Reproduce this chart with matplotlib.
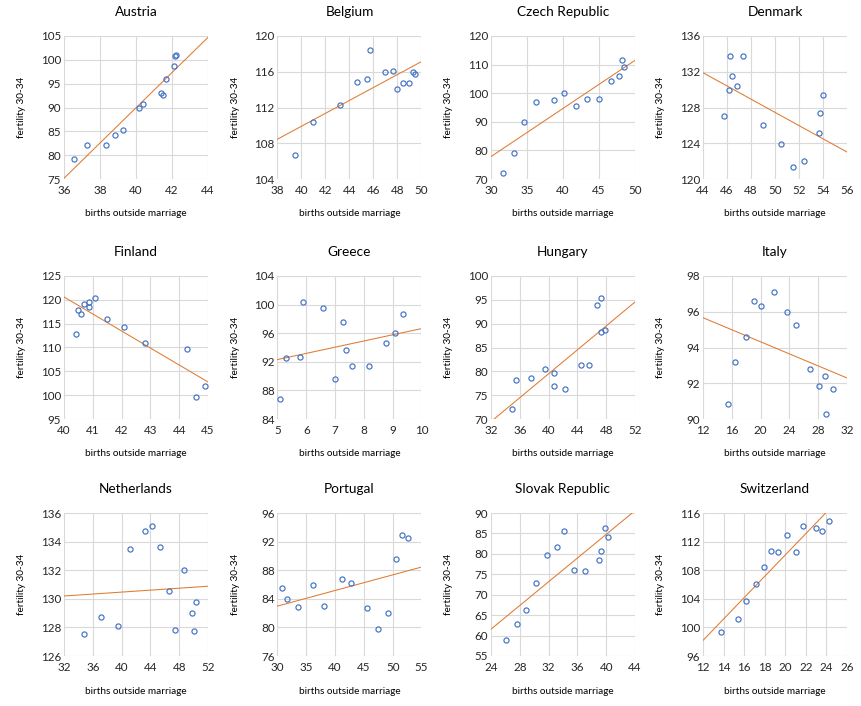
import numpy as np
import matplotlib
matplotlib.use("Agg")
import matplotlib.pyplot as plt
from matplotlib.ticker import MultipleLocator, FormatStrFormatter

plt.rcParams["font.family"] = ["Lato", "DejaVu Sans"]

countries = ["Austria", "Belgium", "Czech Republic", "Denmark",
             "Finland", "Greece", "Hungary", "Italy",
             "Netherlands", "Portugal", "Slovak Republic", "Switzerland"]

austria_births = [36.55, 37.25, 38.35, 38.85, 39.3, 40.14, 40.41, 41.39, 41.5, 41.66, 42.1, 42.16, 42.2]
austria_fert = [79.3, 82.1, 82.1, 84.3, 85.2, 89.8, 90.8, 93.1, 92.7, 96.0, 98.75, 100.9, 101.0]

belgium_births = [39.46, 40.98, 43.19, 44.59, 45.5, 45.67, 47.0, 47.66, 47.99, 48.48, 48.98, 49.28, 49.45]
belgium_fert = [106.74, 110.4, 112.3, 114.85, 115.2, 118.4, 116.0, 116.07, 114.07, 114.78, 114.78, 116.0, 115.74]

czech_births = [31.72, 33.26, 34.52, 36.3, 38.72, 40.2, 41.8, 43.33, 45.0, 46.7, 47.8, 48.2, 48.5]
czech_fert = [72.1, 79.1, 89.9, 96.9, 97.7, 100.0, 95.5, 97.9, 97.9, 104.3, 105.9, 111.5, 109.0]

denmark_births = [45.74, 46.15, 46.23, 46.4, 46.81, 47.31, 48.97, 50.54, 51.46, 52.44, 53.68, 53.77, 53.96]
denmark_fert = [127.07, 129.96, 133.74, 131.52, 130.44, 133.74, 126.07, 123.96, 121.3, 121.96, 125.19, 127.4, 129.4]

finland_births = [40.4, 40.5, 40.6, 40.71, 40.87, 40.88, 41.09, 41.48, 42.1, 42.8, 44.27, 44.58, 44.9]
finland_fert = [112.9, 117.97, 117.13, 119.03, 119.45, 118.4, 120.3, 116.08, 114.4, 111.0, 109.75, 99.6, 101.95]

greece_births = [5.09, 5.29, 5.79, 5.89, 6.59, 7.0, 7.28, 7.38, 7.59, 8.18, 8.77, 9.09, 9.36]
greece_fert = [86.8, 92.47, 92.65, 100.33, 99.49, 89.58, 97.53, 93.63, 91.4, 91.4, 94.6, 96.05, 98.65]

hungary_births = [34.98, 35.54, 37.5, 39.46, 40.72, 40.72, 42.26, 44.49, 45.61, 46.73, 47.29, 47.29, 47.85]
hungary_fert = [72.1, 78.2, 78.64, 80.53, 76.95, 79.69, 76.3, 81.38, 81.38, 94.0, 95.3, 88.33, 88.76]

italy_births = [15.49, 16.47, 18.0, 19.12, 20.09, 21.9, 23.72, 24.98, 26.93, 28.05, 28.88, 29.02, 30.0]
italy_fert = [90.84, 93.2, 94.61, 96.58, 96.3, 97.08, 96.01, 95.28, 92.81, 91.85, 92.42, 90.28, 91.69]

netherlands_births = [34.84, 37.07, 39.44, 41.12, 43.21, 44.19, 45.3, 46.56, 47.4, 48.65, 49.77, 50.05, 50.33]
netherlands_fert = [127.52, 128.73, 128.08, 133.48, 134.74, 135.09, 133.62, 130.53, 127.8, 132.0, 128.99, 127.73, 129.76]

portugal_births = [30.81, 31.68, 33.59, 36.19, 38.1, 41.23, 42.79, 45.57, 47.48, 49.21, 50.6, 51.64, 52.69]
portugal_fert = [85.53, 84.0, 82.88, 85.95, 83.02, 86.79, 86.23, 82.74, 79.81, 82.05, 89.58, 92.93, 92.51]

slovak_births = [26.14, 27.67, 28.93, 30.19, 31.72, 33.12, 34.09, 35.49, 37.02, 38.98, 39.26, 39.81, 40.23]
slovak_fert = [59.0, 62.9, 66.32, 72.91, 79.75, 81.7, 85.6, 76.09, 75.84, 78.53, 80.72, 86.34, 84.14]

switzerland_births = [13.76, 15.42, 16.2, 17.18, 17.96, 18.64, 19.33, 20.21, 21.08, 21.77, 22.94, 23.53, 24.21]
switzerland_fert = [99.4, 101.21, 103.72, 106.09, 108.47, 110.7, 110.56, 112.93, 110.56, 114.19, 113.91, 113.49, 114.88]

births = [austria_births, belgium_births, czech_births, denmark_births,
          finland_births, greece_births, hungary_births, italy_births,
          netherlands_births, portugal_births, slovak_births, switzerland_births]
fertility = [austria_fert, belgium_fert, czech_fert, denmark_fert,
             finland_fert, greece_fert, hungary_fert, italy_fert,
             netherlands_fert, portugal_fert, slovak_fert, switzerland_fert]

# axis ranges (min, max, step)
x_ranges = [(36, 44, 2), (38, 50, 2), (30, 50, 5), (44, 56, 2),
            (40, 45, 1), (5, 10, 1), (32, 52, 4), (12, 32, 4),
            (32, 52, 4), (30, 55, 5), (24, 44, 4), (12, 26, 2)]
y_ranges = [(75, 105, 5), (104, 120, 4), (70, 120, 10), (120, 136, 4),
            (95, 125, 5), (84, 104, 4), (70, 100, 5), (90, 98, 2),
            (126, 136, 2), (76, 96, 4), (55, 90, 5), (96, 116, 4)]

x_label = "births outside marriage"
y_label = "fertility 30-34"

W, H = 862, 706
fig = plt.figure(figsize=(W / 100, H / 100), dpi=100)
fig.patch.set_facecolor("white")

col_left = [64, 277.5, 491, 703]
row_top = [36, 276, 513]
aw, ah = 144, 143

marker_color = "#4472C4"
line_color = "#E07A30"
grid_color = "#D9D9D9"
text_color = "#262626"

for i, name in enumerate(countries):
    r, c = divmod(i, 4)
    L = col_left[c]
    T = row_top[r]
    ax = fig.add_axes([L / W, 1 - (T + ah) / H, aw / W, ah / H])
    x = np.array(births[i])
    y = np.array(fertility[i])
    x0, x1, xs = x_ranges[i]
    y0, y1, ys = y_ranges[i]

    coef = np.polyfit(x, y, 1)
    xx = np.array([x0, x1], dtype=float)
    ax.plot(xx, np.polyval(coef, xx), color=line_color, lw=0.75, zorder=2)
    ax.plot(x, y, linestyle="none", marker="o", markersize=3.7,
            markerfacecolor="none", markeredgecolor=marker_color,
            markeredgewidth=0.85, zorder=3)

    ax.set_xlim(x0, x1)
    ax.set_ylim(y0, y1)
    ax.xaxis.set_major_locator(MultipleLocator(xs))
    ax.yaxis.set_major_locator(MultipleLocator(ys))
    ax.xaxis.set_major_formatter(FormatStrFormatter("%d"))
    ax.yaxis.set_major_formatter(FormatStrFormatter("%d"))
    ax.grid(True, color=grid_color, lw=0.8, zorder=0)
    ax.set_axisbelow(True)
    for s in ax.spines.values():
        s.set_visible(False)
    ax.tick_params(axis="both", length=0, labelsize=8.4, colors=text_color)
    ax.tick_params(axis="x", pad=4)
    ax.tick_params(axis="y", pad=2)

    ax.text(0.5, 1 + 24 / ah, name, transform=ax.transAxes,
            ha="center", va="center", fontsize=9.8, color="black")
    ax.set_xlabel(x_label, fontsize=7.2, color="black")
    ax.xaxis.set_label_coords(0.5, -35 / ah)
    ax.xaxis.label.set_verticalalignment("center")
    ax.set_ylabel(y_label, fontsize=7.2, color="black")
    ax.yaxis.set_label_coords(-42 / aw, 0.5)
    ax.yaxis.label.set_verticalalignment("center")
    ax.yaxis.label.set_horizontalalignment("center")

fig.savefig("out.png", dpi=100, facecolor="white")
